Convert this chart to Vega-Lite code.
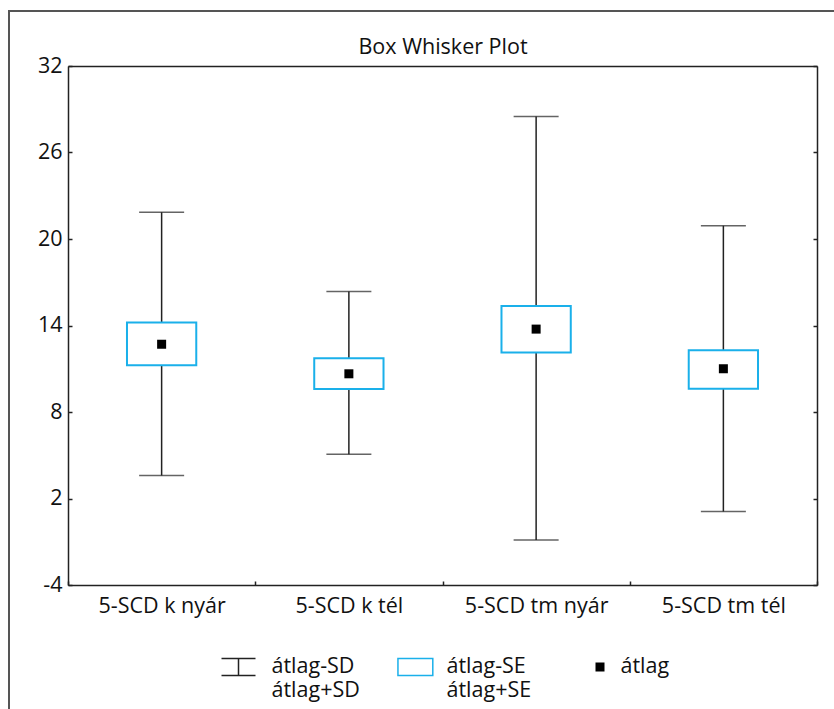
{
  "$schema": "https://vega.github.io/schema/vega-lite/v6.json",
  "width": 827,
  "height": 700,
  "autosize": {"type": "none"},
  "padding": {"left": 9, "top": 11, "right": -2, "bottom": -2},
  "background": "white",
  "config": {
    "font": "Open Sans",
    "view": {"stroke": "#555", "strokeWidth": 2},
    "axis": {
      "domainColor": "#222", "domainWidth": 1.5,
      "tickColor": "#222", "tickWidth": 1.5,
      "labelColor": "#111", "labelFontSize": 21.5, "grid": false
    },
    "legend": {
      "orient": "none", "legendX": 224, "legendY": 638,
      "direction": "horizontal", "columns": 3, "columnPadding": 34,
      "labelFontSize": 21.5, "labelColor": "#111", "labelOffset": 2.5, "labelLimit": 0,
      "labelBaseline": "middle", "symbolSize": 1156, "symbolStrokeWidth": 1.5, "symbolOpacity": 1
    }
  },
  "data": {
    "values": [
      {"group": "5-SCD k nyár", "mean": 12.7, "se_lo": 11.25, "se_hi": 14.2, "sd_lo": 3.6, "sd_hi": 21.85},
      {"group": "5-SCD k tél", "mean": 10.65, "se_lo": 9.6, "se_hi": 11.72, "sd_lo": 5.07, "sd_hi": 16.35},
      {"group": "5-SCD tm nyár", "mean": 13.75, "se_lo": 12.12, "se_hi": 15.36, "sd_lo": -0.87, "sd_hi": 28.5},
      {"group": "5-SCD tm tél", "mean": 11.0, "se_lo": 9.62, "se_hi": 12.28, "sd_lo": 1.1, "sd_hi": 20.92}
    ]
  },
  "resolve": {"axis": {"x": "independent", "y": "independent"}},
  "layer": [
    {
      "mark": {"type": "rule", "color": "#222", "strokeWidth": 1.5},
      "encoding": {
        "x": {"field": "group", "type": "nominal", "sort": null,
          "scale": {"range": [59, 808], "paddingInner": 0, "paddingOuter": 0},
          "axis": {"orient": "bottom", "offset": -126, "labelAngle": 0, "tickBand": "extent", "tickSize": -4, "labelPadding": 14, "title": null, "domain": true}},
        "y": {"field": "sd_lo", "type": "quantitative",
          "scale": {"domain": [-4, 32], "range": [574, 55], "nice": false, "zero": false},
          "axis": {"orient": "left", "offset": -59, "values": [-4, 2, 8, 14, 20, 26, 32], "labelExpr": "'' + datum.value", "tickSize": -4, "labelPadding": 10, "title": null}},
        "y2": {"field": "sd_hi"}
      }
    },
    {
      "mark": {"type": "tick", "color": "#222", "thickness": 1.5, "size": 45},
      "encoding": {
        "x": {"field": "group", "type": "nominal", "sort": null,
          "axis": {"orient": "top", "offset": -55, "ticks": false, "labels": false, "domain": true,
            "title": "Box Whisker Plot", "titleFontSize": 21.5, "titleFontWeight": "normal", "titleColor": "#111", "titlePadding": 8}},
        "y": {"field": "sd_lo", "type": "quantitative",
          "axis": {"orient": "right", "offset": -19, "values": [-4, 2, 8, 14, 20, 26, 32], "tickSize": -4, "labels": false, "title": null}}
      }
    },
    {
      "mark": {"type": "tick", "color": "#222", "thickness": 1.5, "size": 45},
      "encoding": {
        "x": {"field": "group", "type": "nominal", "sort": null, "axis": null},
        "y": {"field": "sd_hi", "type": "quantitative", "axis": null}
      }
    },
    {
      "mark": {"type": "bar", "fill": "white", "stroke": "#1ab0ea", "strokeWidth": 2, "width": {"band": 0.37}},
      "encoding": {
        "x": {"field": "group", "type": "nominal", "sort": null, "axis": null},
        "y": {"field": "se_lo", "type": "quantitative", "axis": null},
        "y2": {"field": "se_hi"}
      }
    },
    {
      "mark": {"type": "point", "size": 1156, "opacity": 1, "strokeWidth": 1.5},
      "encoding": {
        "x": {"field": "group", "type": "nominal", "sort": null, "axis": null},
        "y": {"field": "mean", "type": "quantitative", "axis": null},
        "shape": {
          "datum": "átlag", "type": "nominal",
          "scale": {"domain": ["átlag-SD|átlag+SD", "átlag-SE|átlag+SE", "átlag"],
            "range": ["M-1.735,-0.5H0.265M-0.735,-0.5V0.5M-1.735,0.5H0.265", "M-1.65,-0.5H0.4V0.5H-1.65ZM7,0", "M-0.265,-0.265H0.265V0.265H-0.265Z"]},
          "legend": {"title": null, "labelExpr": "datum.label === 'átlag' ? ['átlag', ' '] : split(datum.label, '|')"}
        },
        "fill": {
          "datum": "átlag", "type": "nominal",
          "scale": {"domain": ["átlag-SD|átlag+SD", "átlag-SE|átlag+SE", "átlag"], "range": ["transparent", "transparent", "#000000"]},
          "legend": {"title": null, "labelExpr": "datum.label === 'átlag' ? ['átlag', ' '] : split(datum.label, '|')"}
        },
        "stroke": {
          "datum": "átlag", "type": "nominal",
          "scale": {"domain": ["átlag-SD|átlag+SD", "átlag-SE|átlag+SE", "átlag"], "range": ["#222222", "#1ab0ea", "transparent"]},
          "legend": {"title": null, "labelExpr": "datum.label === 'átlag' ? ['átlag', ' '] : split(datum.label, '|')"}
        }
      }
    }
  ]
}
